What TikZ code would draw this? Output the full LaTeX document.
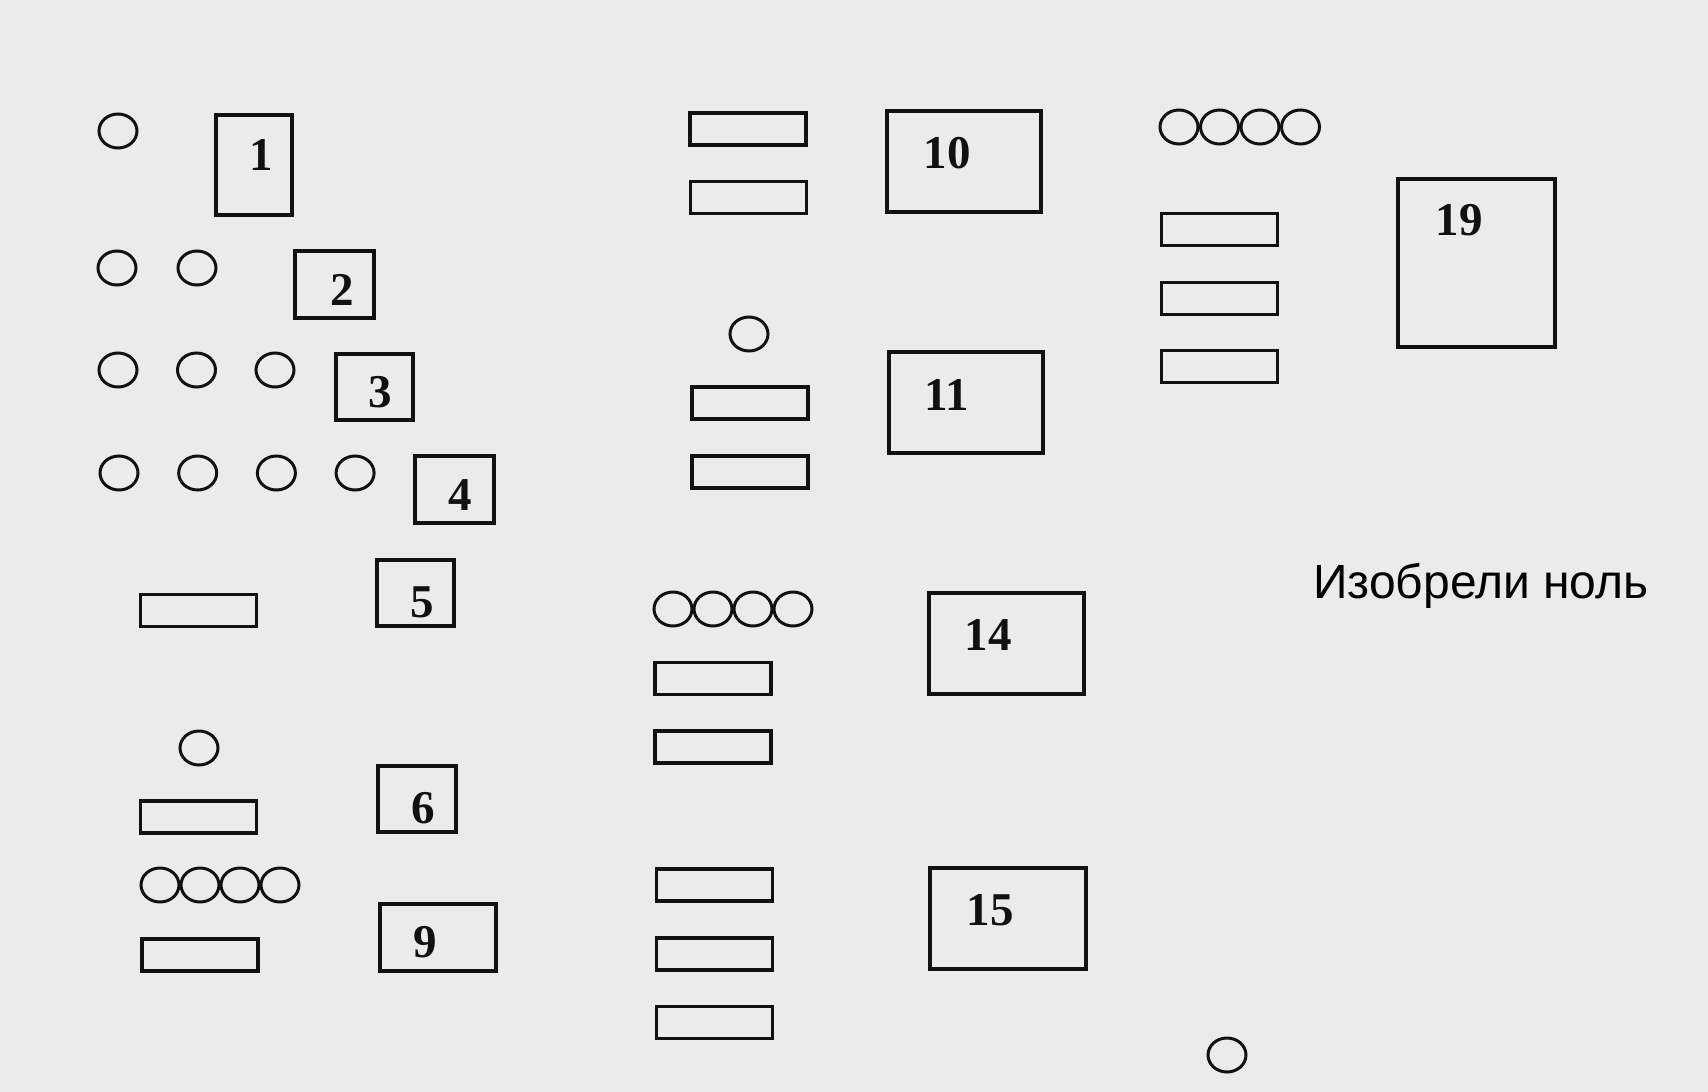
\documentclass[tikz,border=0pt]{standalone}
\usepackage{fontspec}
\setmainfont{Liberation Serif}
\newfontfamily\notefont{Liberation Sans}
\usepackage{tikz}
\usetikzlibrary{shapes.geometric}
\definecolor{paper}{HTML}{EBEBEB}
\definecolor{ink}{HTML}{111111}
\tikzset{
  numbox/.style={draw=ink, line width=4pt, inner sep=0pt},
  bar/.style={draw=ink, line width=3.5pt, inner sep=0pt,
              minimum width=116pt, minimum height=32pt},
  pebble/.style={ellipse, draw=ink, line width=3pt, inner sep=0pt,
                 minimum width=38pt, minimum height=34pt},
  numlbl/.style={font=\bfseries\fontsize{47}{47}\selectfont, text=ink, inner sep=0pt},
  caption/.style={font=\notefont\fontsize{48}{48}\selectfont, text=black,
                  inner sep=0pt, anchor=base west},
}

\begin{document}
\begin{tikzpicture}[x=1pt, y=-1pt]
  \fill[paper] (0,0) rectangle (1708,1092);
  \useasboundingbox (0,0) rectangle (1708,1092);

  % left column: 1 to 9
  \node[pebble] (p1) at (118,131) {};
  \node[numbox, minimum width=76pt, minimum height=100pt] (box1) at (254,165) {};
  \node[numlbl] (n1) at (261,155) {1};

  \foreach \k in {0,1}
    \node[pebble] (p2-\k) at ({117+80*\k},268) {};
  \node[numbox, minimum width=79pt, minimum height=67pt] (box2) at (334.5,284.5) {};
  \node[numlbl] (n2) at (342,290) {2};

  \foreach \k in {0,1,2}
    \node[pebble] (p3-\k) at ({118+78.5*\k},370) {};
  \node[numbox, minimum width=77pt, minimum height=66pt] (box3) at (374.5,387) {};
  \node[numlbl] (n3) at (380,392) {3};

  \foreach \k in {0,...,3}
    \node[pebble] (p4-\k) at ({119+78.7*\k},473) {};
  \node[numbox, minimum width=79pt, minimum height=67pt] (box4) at (454.5,489.5) {};
  \node[numlbl] (n4) at (460,495) {4};

  \node[bar] (bar5) at (198.5,610.5) {};
  \node[numbox, minimum width=77pt, minimum height=66pt] (box5) at (415.5,593) {};
  \node[numlbl] (n5) at (422,602) {5};

  \node[pebble] (p6) at (199,748) {};
  \node[bar] (bar6) at (198.5,817) {};
  \node[numbox, minimum width=78pt, minimum height=66pt] (box6) at (417,799) {};
  \node[numlbl] (n6) at (423,808) {6};

  \foreach \k in {0,...,3}
    \node[pebble] (p9-\k) at ({160+40*\k},885) {};
  \node[bar] (bar9) at (200,955) {};
  \node[numbox, minimum width=116pt, minimum height=67pt] (box9) at (438,937.5) {};
  \node[numlbl] (n9) at (425,942) {9};

  % middle column: 10 to 15
  \node[bar] (bar10a) at (748,129) {};
  \node[bar] (bar10b) at (748.5,197.5) {};
  \node[numbox, minimum width=154pt, minimum height=101pt] (box10) at (964,161.5) {};
  \node[numlbl] (n10) at (947,153) {10};

  \node[pebble] (p11) at (749,334) {};
  \node[bar] (bar11a) at (750,403) {};
  \node[bar] (bar11b) at (750,472) {};
  \node[numbox, minimum width=154pt, minimum height=101pt] (box11) at (966,402.5) {};
  \node[numlbl] (n11) at (947,395) {11};

  \foreach \k in {0,...,3}
    \node[pebble] (p14-\k) at ({673+40*\k},609) {};
  \node[bar] (bar14a) at (713,678.5) {};
  \node[bar] (bar14b) at (713,747) {};
  \node[numbox, minimum width=155pt, minimum height=101pt] (box14) at (1006.5,643.5) {};
  \node[numlbl] (n14) at (988,635) {14};

  \foreach \r/\y in {a/885,b/954,c/1022.5}
    \node[bar] (bar15\r) at (714.5,\y) {};
  \node[numbox, minimum width=156pt, minimum height=101pt] (box15) at (1008,918.5) {};
  \node[numlbl] (n15) at (990,910) {15};

  % right column: 19 and zero
  \foreach \k in {0,...,3}
    \node[pebble] (p19-\k) at ({1179+40.5*\k},127) {};
  \foreach \r/\y in {a/229.5,b/298.5,c/366.5}
    \node[bar] (bar19\r) at (1219.5,\y) {};
  \node[numbox, minimum width=157pt, minimum height=168pt] (box19) at (1476.5,263) {};
  \node[numlbl] (n19) at (1459,220) {19};

  \node[caption] (zero) at (1313,598) {Изобрели ноль};
  \node[pebble] (p0) at (1227,1055) {};
\end{tikzpicture}
\end{document}
